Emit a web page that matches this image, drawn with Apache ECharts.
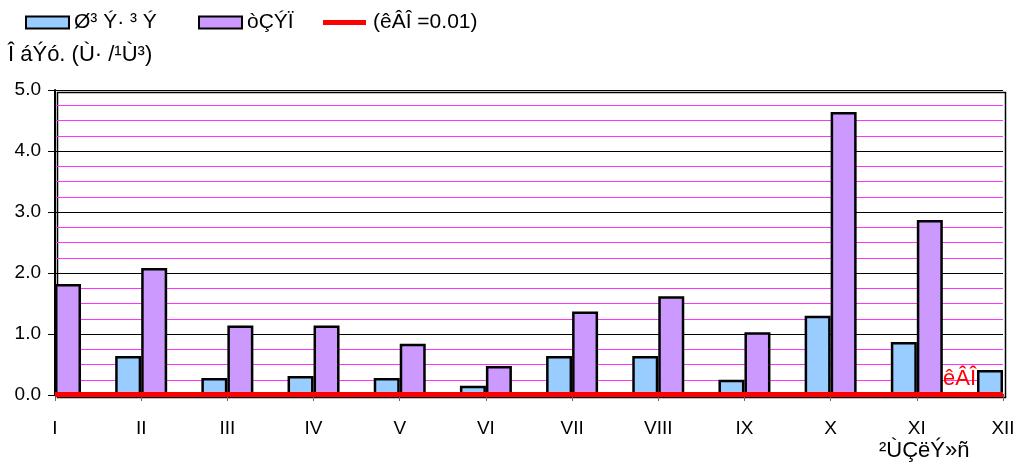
<!DOCTYPE html>
<html>
<head>
<meta charset="utf-8">
<script src="https://cdn.jsdelivr.net/npm/echarts@6/dist/echarts.min.js"></script>
<style>
  html, body { margin: 0; padding: 0; background: #fff; }
  #chart { width: 1020px; height: 471px; }
</style>
</head>
<body>
<div id="chart"></div>
<script>
// ամիսներ
const months = ['I', 'II', 'III', 'IV', 'V', 'VI', 'VII', 'VIII', 'IX', 'X', 'XI', 'XII'];
const seriesNames = ['Ø³ Ý· ³ Ý', 'òÇÝÏ', '(êÂÎ =0.01)'];
const blueValues = [null, 0.64, 0.28, 0.31, 0.28, 0.15, 0.64, 0.64, 0.25, 1.30, 0.87, 0.41];
const purpleValues = [1.82, 2.08, 1.14, 1.14, 0.84, 0.475, 1.37, 1.62, 1.03, 4.64, 2.87, null];
const limitValues = [0.01, 0.01, 0.01, 0.01, 0.01, 0.01, 0.01, 0.01, 0.01, 0.01, 0.01, 0.01];
const yTicks = { min: 0, max: 5, interval: 1, minorInterval: 0.25 };

const FONT = '"Liberation Sans", Arial, sans-serif';
const legendText = { fontSize: 21, color: '#000', fontFamily: FONT };
// линия в легенде (полоса по центру значка)
const lineIcon = 'path://M0,0L0.01,0L0,0.01Z M0,3.5L43,3.5L43,8.5L0,8.5Z M43,12L42.99,12L43,11.99Z';

const chart = echarts.init(document.getElementById('chart'));
chart.setOption({
    animation: false,
    textStyle: { fontFamily: FONT },
    legend: [
        { left: 25, top: 12, padding: 0, itemWidth: 43, itemHeight: 12, textStyle: legendText,
          data: [{ name: seriesNames[0], icon: 'rect' }] },
        { left: 198, top: 12, padding: 0, itemWidth: 43, itemHeight: 12, textStyle: legendText,
          data: [{ name: seriesNames[1], icon: 'rect' }] },
        { left: 323, top: 12, padding: 0, itemWidth: 47, itemHeight: 12, textStyle: legendText,
          data: [{ name: seriesNames[2], icon: lineIcon, itemStyle: { color: '#ff0000' } }] }
    ],
    grid: { left: 55, right: 17, top: 90, bottom: 76, containLabel: false },
    graphic: [
        {
            type: 'text', left: 8, top: 44,
            style: { text: 'Î áÝó. (Ù· /¹Ù³)', fontSize: 22, fill: '#000', fontFamily: FONT }
        },
        {
            type: 'text', left: 879, top: 440,
            style: { text: '²ÙÇëÝ»ñ', fontSize: 22, fill: '#000', fontFamily: FONT }
        },
        {
            // рамка справа и сверху
            type: 'rect', left: 55, top: 90, z: 0,
            shape: { width: 948, height: 305 },
            style: { fill: 'none', stroke: '#000', lineWidth: 1.5 }
        }
    ],
    xAxis: {
        type: 'category',
        data: months,
        boundaryGap: false,
        axisLine: { show: true, lineStyle: { color: '#000', width: 2 } },
        axisTick: { show: true, length: 6, lineStyle: { color: '#666' } },
        axisLabel: { color: '#000', fontSize: 19, margin: 24, fontFamily: FONT },
        splitLine: { show: false }
    },
    yAxis: [
        {
            type: 'value',
            min: yTicks.min,
            max: yTicks.max,
            interval: yTicks.interval,
            z: 1,
            axisLine: { show: true, lineStyle: { color: '#000', width: 2 } },
            axisTick: { show: true, length: 7, lineStyle: { color: '#000' } },
            axisLabel: {
                color: '#000', fontSize: 19, margin: 14, fontFamily: FONT,
                formatter: v => v.toFixed(1)
            },
            splitLine: { show: true, lineStyle: { color: '#000', width: 1 } }
        },
        {
            // вспомогательная ось только для розовых линий сетки
            type: 'value',
            position: 'left',
            min: yTicks.min,
            max: yTicks.max,
            interval: yTicks.minorInterval,
            z: 0,
            axisLine: { show: false },
            axisTick: { show: false },
            axisLabel: { show: false },
            splitLine: { show: true, lineStyle: { color: '#ff33ff', type: 'solid', width: 1 } }
        }
    ],
    series: [
        {
            name: seriesNames[0],
            type: 'bar',
            data: blueValues,
            barWidth: 26,
            barGap: '0%',
            clip: true,
            itemStyle: { color: '#99ccff', borderColor: '#000', borderWidth: 2.5 },
            z: 2
        },
        {
            name: seriesNames[1],
            type: 'bar',
            data: purpleValues,
            barWidth: 26,
            barGap: '0%',
            clip: true,
            itemStyle: { color: '#cc99ff', borderColor: '#000', borderWidth: 2.5 },
            z: 2
        },
        {
            name: seriesNames[2],
            type: 'line',
            data: limitValues,
            symbol: 'none',
            color: '#ff0000',
            lineStyle: { color: '#ff0000', width: 5 },
            endLabel: {
                show: true,
                formatter: 'êÂÎ',
                color: '#ff0000',
                fontSize: 22,
                fontFamily: FONT,
                offset: [-68, -15]
            },
            z: 5
        }
    ]
});
</script>
</body>
</html>
